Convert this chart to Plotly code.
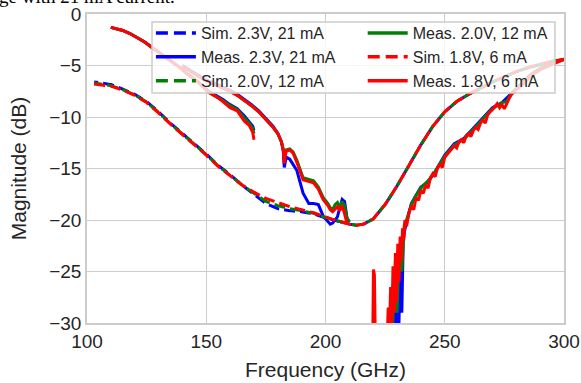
import plotly.graph_objects as go

# ---------------- data ----------------
sim_freq = [103, 106, 110, 115, 120, 125, 130, 135, 140, 145, 150, 155, 160, 165, 170, 175, 180, 185, 190, 195,
            200, 205, 210, 213, 216, 220, 225, 230, 235, 240, 245, 250, 255, 260, 265, 270, 275, 280, 285, 290, 295, 300]
sim_23 = [-6.6, -6.7, -6.85, -7.3, -7.8, -8.5, -9.5, -10.6, -11.6, -12.6, -13.6, -14.7, -15.6, -16.6, -17.5, -18.4,
          -18.9, -19.1, -19.2, -19.4, -19.8, -20.1, -20.4, -20.5, -20.4, -19.9, -18.5, -16.7, -14.7, -12.7, -10.9,
          -9.5, -8.5, -7.8, -7.2, -6.6, -6.1, -5.6, -5.2, -4.9, -4.6, -4.4]
sim_20 = [-6.7, -6.8, -6.95, -7.35, -7.85, -8.55, -9.55, -10.65, -11.65, -12.65, -13.65, -14.75, -15.65, -16.6, -17.4,
          -18.2, -18.6, -18.9, -19.1, -19.35, -19.75, -20.1, -20.4, -20.5, -20.4, -19.9, -18.5, -16.7, -14.7, -12.7,
          -10.9, -9.5, -8.5, -7.8, -7.2, -6.6, -6.1, -5.6, -5.2, -4.9, -4.6, -4.4]
sim_18 = [-6.8, -6.9, -7.0, -7.4, -7.9, -8.6, -9.6, -10.7, -11.7, -12.7, -13.7, -14.8, -15.7, -16.6, -17.3, -17.9,
          -18.3, -18.7, -19.0, -19.3, -19.7, -20.1, -20.4, -20.5, -20.4, -19.9, -18.5, -16.7, -14.7, -12.7, -10.9,
          -9.5, -8.5, -7.8, -7.2, -6.6, -6.1, -5.6, -5.2, -4.9, -4.6, -4.4]

# measured band A (110-170 GHz)
measA_freq = [110, 112, 115, 118, 121, 124, 127, 130, 133, 136, 139, 142, 145, 148, 151, 154, 157, 160, 163, 166,
              168, 169.5, 170]
measA_23 = [-1.3, -1.4, -1.6, -1.9, -2.3, -2.7, -3.2, -3.7, -4.2, -4.7, -5.2, -5.8, -6.3, -6.9, -7.5, -7.9, -8.3,
            -8.8, -9.2, -9.9, -10.5, -10.9, -11.3]
measA_20 = [-1.3, -1.4, -1.6, -1.9, -2.3, -2.7, -3.2, -3.7, -4.2, -4.7, -5.2, -5.8, -6.3, -6.9, -7.6, -8.0, -8.4,
            -8.9, -9.3, -10.1, -10.6, -11.1, -11.6]
measA_18 = [-1.3, -1.4, -1.6, -1.9, -2.3, -2.7, -3.2, -3.7, -4.2, -4.7, -5.2, -5.8, -6.3, -6.9, -7.6, -8.0, -8.5,
            -9.1, -9.4, -10.4, -10.8, -11.5, -12.2]

# measured band B (140-210 GHz)
measB_freq = [140, 145, 150, 155, 160, 163, 166, 169, 172, 175, 178, 180, 181.5, 182.3, 182.7, 183.5, 185, 186.4,
              188, 190.6, 193, 195, 197, 199, 201, 202, 203, 204, 205, 206, 207, 208, 209, 210]
measB_23 = [-5.0, -5.7, -6.4, -6.9, -7.4, -7.8, -8.3, -8.8, -9.4, -10.1, -10.9, -11.6, -12.4, -13.3, -14.9, -13.9,
            -14.1, -14.6, -15.2, -17.4, -18.4, -18.4, -18.5, -19.6, -20.1, -20.4, -20.3, -20.0, -19.7, -18.8, -18.0,
            -18.2, -19.8, -20.2]
measB_20 = [-5.1, -5.8, -6.5, -7.0, -7.5, -7.9, -8.4, -8.9, -9.5, -10.2, -11.0, -11.6, -12.4, -13.2, -14.2, -13.2,
            -13.1, -13.4, -14.2, -15.9, -16.1, -16.2, -16.8, -17.8, -18.4, -18.8, -19.0, -18.5, -18.3, -18.8, -18.2,
            -18.6, -19.8, -20.2]
measB_18 = [-5.1, -5.8, -6.5, -7.0, -7.5, -7.9, -8.4, -8.9, -9.5, -10.2, -11.0, -11.6, -12.4, -13.2, -14.5, -13.3,
            -13.2, -13.5, -14.4, -16.1, -16.3, -16.4, -17.0, -18.0, -18.6, -19.0, -19.2, -18.9, -18.7, -19.1, -18.6,
            -19.4, -20.3, -20.4]

# measured band C (220-300 GHz)
measC23_freq = [226, 228, 229, 229.6, 230.2, 230.8, 231.4, 232, 232.6, 233.2, 234, 236, 238, 240, 243, 246, 250,
                254, 258, 262, 266, 270, 274, 278, 282, 286, 290, 295, 300]
measC_23 = [-35, -33, -29, -31, -26, -30, -24, -29, -22, -21, -20.2, -18.4, -17.6, -16.8, -16.3, -15.3, -13.7,
            -12.6, -12.1, -11.1, -10.1, -9.1, -8.6, -7.7, -6.8, -5.9, -5.3, -4.8, -4.4]
measC20_freq = [225.8, 227, 228, 229, 230, 231, 232, 233, 234, 236, 238, 240, 243, 246, 250, 254, 258, 262, 266,
                270, 274, 276, 278, 282, 286, 290, 295, 300]
measC_20 = [-35, -29, -31, -26, -29, -22.5, -25, -20.5, -20.0, -18.5, -17.6, -16.9, -16.2, -15.3, -13.8, -12.7,
            -12.2, -11.2, -10.2, -9.2, -8.6, -8.5, -7.7, -6.8, -5.9, -5.3, -4.8, -4.4]
measC18_freq = [219.8, 220.1, 220.5, 220.9, 225.5, 226.3, 226.8, 227.3, 227.8, 228.3, 228.8, 229.3, 229.8, 230.3,
                230.8, 231.3, 231.8, 232.3, 232.8, 233.3, 234, 235, 236, 237, 238, 239, 240, 241, 242, 243, 244,
                245, 246, 247, 248, 249, 250, 251, 252, 253, 254, 255, 256, 257, 258, 259, 260, 261, 262, 263, 264,
                265, 266, 267, 268, 269, 270, 271, 272, 273, 274, 275, 276, 277, 278, 279, 280, 281, 282, 283, 284,
                285, 286, 287, 288, 289, 290, 292, 294, 296, 298, 300]
measC_18 = [-32, -24.8, -25.3, -32, -34, -28.5, -31, -26.5, -30, -24.5, -29, -23.2, -28, -22.3, -26, -21.6, -24,
            -20.8, -22, -20.0, -20.6, -19.3, -18.6, -19.0, -17.8, -18.1, -17.1, -17.4, -16.6, -16.9, -15.9, -15.5,
            -15.8, -14.9, -14.6, -14.9, -13.9, -13.6, -13.4, -13.1, -12.8, -13.0, -12.4, -12.2, -12.5, -11.8, -11.6,
            -11.9, -11.3, -11.0, -11.2, -10.6, -10.3, -10.6, -9.8, -9.5, -9.3, -9.0, -8.7, -9.1, -8.8, -9.2, -8.6,
            -8.2, -7.8, -7.6, -7.3, -7.2, -6.9, -6.8, -6.5, -6.3, -6.0, -5.9, -5.7, -5.6, -5.4, -5.2, -5.0, -4.8,
            -4.6, -4.4]

x_ticks = [100, 150, 200, 250, 300]
y_ticks = [0, -5, -10, -15, -20, -25, -30]

BLUE, GREEN, RED = "#0000ff", "#008000", "#ff0000"


def join(*segs):
    xs, ys = [], []
    for i, (sx, sy) in enumerate(segs):
        if i:
            xs.append(None)
            ys.append(None)
        xs += list(sx)
        ys += list(sy)
    return xs, ys


fig = go.Figure()

# drawn traces (order: blue, green, red on top)
draw = [
    ("Sim. 2.3V, 21 mA", sim_freq, sim_23, None, BLUE, "4px,5px,7px,0px"),
    ("Meas. 2.3V, 21 mA", None, None, [(measA_freq, measA_23), (measB_freq, measB_23), (measC23_freq, measC_23)], BLUE, "solid"),
    ("Sim. 2.0V, 12 mA", sim_freq, sim_20, None, GREEN, "8px,5px,3px,0px"),
    ("Meas. 2.0V, 12 mA", None, None, [(measA_freq, measA_20), (measB_freq, measB_20), (measC20_freq, measC_20)], GREEN, "solid"),
    ("Sim. 1.8V, 6 mA", sim_freq, sim_18, None, RED, "11px,5px"),
    ("Meas. 1.8V, 6 mA", None, None, [(measA_freq, measA_18), (measB_freq, measB_18), (measC18_freq, measC_18)], RED, "solid"),
]
for name, fx, fy, segs, col, dash in draw:
    if segs is not None:
        fx, fy = join(*segs)
    fig.add_trace(go.Scatter(x=fx, y=fy, mode="lines", name=name, connectgaps=False, showlegend=False,
                             line=dict(color=col, width=3, dash=dash)))

# legend entries (two columns)
legend_items = [
    ("Sim. 2.3V, 21 mA", BLUE, "12px,6px", "legend"),
    ("Meas. 2.3V, 21 mA", BLUE, "solid", "legend"),
    ("Sim. 2.0V, 12 mA", GREEN, "12px,6px", "legend"),
    ("Meas. 2.0V, 12 mA", GREEN, "solid", "legend2"),
    ("Sim. 1.8V, 6 mA", RED, "12px,6px", "legend2"),
    ("Meas. 1.8V, 6 mA", RED, "solid", "legend2"),
]
for name, col, dash, lg in legend_items:
    fig.add_trace(go.Scatter(x=[None], y=[None], mode="lines", name=name, legend=lg,
                             line=dict(color=col, width=3.5, dash=dash)))

axis_common = dict(showgrid=True, gridcolor="#cccccc", gridwidth=1.3, zeroline=False,
                   showline=True, linecolor="#cccccc", linewidth=1.5, mirror=True, automargin=False,
                   ticks="", tickfont=dict(size=19, color="#262626"),
                   title_font=dict(size=21, color="#262626"))

leg_common = dict(orientation="v", yanchor="top", xanchor="left", bgcolor="rgba(0,0,0,0)",
                  borderwidth=0, font=dict(size=16, color="#262626"), traceorder="normal", itemwidth=40)

fig.update_layout(
    width=581, height=383,
    margin=dict(l=87, r=17, t=14, b=60),
    paper_bgcolor="white", plot_bgcolor="white",
    font=dict(family="Liberation Sans, Arial, sans-serif", color="#262626"),
    xaxis=dict(range=[100, 300], tickvals=x_ticks, title=dict(text="Frequency (GHz)", standoff=12), **axis_common),
    yaxis=dict(range=[-30, 0], tickvals=y_ticks, title=dict(text="Magnitude (dB)", standoff=17), **axis_common),
    legend=dict(x=0.134, y=0.993, **leg_common),
    legend2=dict(x=0.578, y=0.993, **leg_common),
    shapes=[dict(type="rect", xref="paper", yref="paper", x0=0.1363, x1=0.9811, y0=0.7443, y1=0.9741,
                 fillcolor="rgba(255,255,255,0.8)", line=dict(color="#cccccc", width=1.5), layer="above")],
    annotations=[dict(text="ge with 21 mA current.", xref="paper", yref="paper", x=-0.188, y=1.016,
                      xanchor="left", yanchor="bottom", showarrow=False,
                      font=dict(family="Liberation Serif, Times New Roman, serif", size=19, color="black"))],
)

fig.write_html("out.html")
